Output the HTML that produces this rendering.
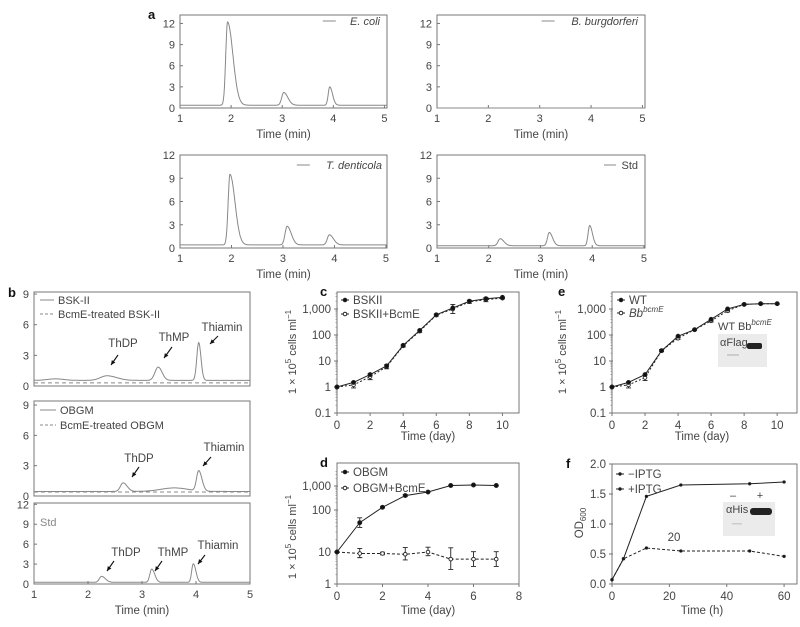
<!DOCTYPE html>
<html><head><meta charset="utf-8"><style>
html,body{margin:0;padding:0;background:#fff}
svg{display:block;font-family:"Liberation Sans",sans-serif}
</style></head><body>
<svg id="fig" width="800" height="627" viewBox="0 0 800 627" xmlns="http://www.w3.org/2000/svg"></svg>
<script>
// ---------- data ----------
// chromatograms: peak centers (min), heights, widths, tails, baseline
const ecoliC=[1.93,3.03,3.93], ecoliH=[11.8,1.8,2.6], ecoliW=[0.035,0.04,0.03], ecoliT=[3,2,1.8], ecoliBase=0.4;
const bburgC=[], bburgH=[], bburgW=[], bburgT=[], bburgBase=0;
const tdentC=[1.97,3.08,3.9], tdentH=[9.1,2.4,1.3], tdentW=[0.035,0.04,0.04], tdentT=[2.8,2,2], tdentBase=0.4;
const stdaC=[2.22,3.17,3.95], stdaH=[0.9,1.7,2.6], stdaW=[0.04,0.035,0.03], stdaT=[1.8,1.8,1.8], stdaBase=0.3;
const bskC=[1.4,2.35,3.3,4.05], bskH=[0.15,0.45,1.3,3.7], bskW=[0.15,0.12,0.06,0.035], bskT=[1,1.5,1.2,1.2], bskBase=0.55, bskTreated=0.3;
const obgmC=[2.65,3.6,4.05], obgmH=[0.85,0.35,2.0], obgmW=[0.05,0.25,0.04], obgmT=[1.5,1,1.5], obgmBase=0.45, obgmTreated=0.4;
const stdbC=[2.25,3.18,3.95], stdbH=[0.9,2.0,2.8], stdbW=[0.04,0.035,0.03], stdbT=[1.8,1.6,1.6], stdbBase=0.25;
// growth curves
const cDays=[0,1,2,3,4,5,6,7,8,9,10];
const cBSK=[1,1.5,3,6.5,40,150,600,1100,2000,2500,2800];
const cBcmE=[1,1.2,2.5,6,38,140,580,1000,1900,2300,2600];
const cErr=[1,1.3,1.3,1.2,1.1,1.1,1.1,1.5,1.15,1.2,1.05];
const dDays=[0,1,2,3,4,5,6,7];
const dOBGM=[10,50,130,400,560,1050,1100,1050];
const dBcmE=[10,9,9,8.5,10,6,6,6];
const dErr=[1,1.35,1.1,1.5,1.3,2.1,1.7,1.7];
const eDays=[0,1,2,3,4,5,6,7,8,9,10];
const eWT=[1,1.5,3,25,90,160,400,1000,1500,1600,1600];
const eBb=[1,1.2,2.3,25,75,160,350,850,1500,1600,1600];
const eErr=[1,1.3,1.3,1.1,1.1,1.05,1.1,1.1,1.05,1.05,1.05];
const fTime=[0,4,12,24,48,60];
const fMinus=[0.07,0.42,1.46,1.65,1.67,1.70];
const fPlus=[0.07,0.42,0.60,0.55,0.55,0.46];
const chromTicksX=[1,2,3,4,5];
const logTickLabels=["0.1","1","10","100","1,000"];

// ---------- helpers ----------
const NS="http://www.w3.org/2000/svg";
const svg=document.getElementById('fig');
function mk(tag,attrs,parent){const e=document.createElementNS(NS,tag);for(const k in attrs)e.setAttribute(k,attrs[k]);(parent||svg).appendChild(e);return e;}
function txt(x,y,s,anchor,size,parent,extra){const t=mk('text',Object.assign({x:x,y:y,'font-size':size||11,fill:'#444','text-anchor':anchor||'start'},extra||{}),parent);t.textContent=s;return t;}
function peaks(x,C,H,W,T,base){let v=base;for(let i=0;i<C.length;i++){const w=x<C[i]?W[i]:W[i]*T[i];v+=H[i]*Math.exp(-0.5*Math.pow((x-C[i])/w,2));}return v;}

function chrom(name,bx0,bx1,by0,by1,xmin,xmax,ymax,yTicks,data,opts){
  const g=mk('g',{},svg);
  
  
  const sx=v=>bx0+(v-xmin)/(xmax-xmin)*(bx1-bx0);
  const sy=v=>by1-v/ymax*(by1-by0);
  const r=mk('rect',{x:bx0,y:by0,width:bx1-bx0,height:by1-by0,fill:'none',stroke:'#777','stroke-width':1},g);
  
  yTicks.forEach(t=>{const y=sy(t);mk('line',{x1:bx0,x2:bx0+3,y1:y,y2:y,stroke:'#777'},g);const l=txt(bx0-5,y+4,String(t),'end',11,g);});
  if(opts.xTicks){chromTicksX.forEach(t=>{const x=sx(t);mk('line',{x1:x,x2:x,y1:by1,y2:by1-3,stroke:'#777'},g);const l=txt(x,by1+14,String(t),'middle',11,g);});}
  if(opts.xTitle){const l=txt((bx0+bx1)/2,by1+30,'Time (min)','middle',11.5,g);}
  data.forEach(d=>{
    let p='';
    if(d.flat!==undefined){p='M'+sx(xmin)+','+sy(d.flat)+'L'+sx(xmax)+','+sy(d.flat);}
    else{for(let x=xmin;x<=xmax+1e-9;x+=0.005){p+=(p?'L':'M')+sx(x).toFixed(1)+','+sy(peaks(x,d.C,d.H,d.W,d.T,d.base)).toFixed(1);}}
    const path=mk('path',{d:p,fill:'none',stroke:'#888','stroke-width':1,'stroke-dasharray':d.dash||'none'},g);
    
  });
  return {g,sx,sy};
}

function logAxis(name,bx0,bx1,by0,by1,xmin,xmax,xTicks,ymap,yTickVals,yLabels,minor){
  const g=mk('g',{},svg);
  
  
  const sx=v=>bx0+(v-xmin)/(xmax-xmin)*(bx1-bx0);
  const r=mk('rect',{x:bx0,y:by0,width:bx1-bx0,height:by1-by0,fill:'none',stroke:'#777'},g);
  
  yTickVals.forEach((t,i)=>{const y=ymap(t);mk('line',{x1:bx0-3,x2:bx0+1,y1:y,y2:y,stroke:'#777'},g);const l=txt(bx0-6,y+4,yLabels[i],'end',11.5,g);});
  if(minor){minor.forEach(v=>{const y=ymap(v);if(y>=by0&&y<=by1)mk('line',{x1:bx0-1.5,x2:bx0,y1:y,y2:y,stroke:'#888','stroke-width':0.7},g);});}
  xTicks.forEach(t=>{const x=sx(t);mk('line',{x1:x,x2:x,y1:by1,y2:by1+3,stroke:'#777'},g);const l=txt(x,by1+16,String(t),'middle',11.5,g);});
  return {g,sx};
}
function series(g,name,xs,ys,sx,sy,dash,marker,err){
  let p='';xs.forEach((x,i)=>{p+=(i?'L':'M')+sx(x).toFixed(1)+','+sy(ys[i]).toFixed(1);});
  const path=mk('path',{d:p,fill:'none',stroke:'#222','stroke-width':1,'stroke-dasharray':dash||'none'},g);
  
  xs.forEach((x,i)=>{
    const cx=sx(x),cy=sy(ys[i]);
    if(err&&err[i]>1.001){const y1=sy(ys[i]*err[i]),y2=sy(ys[i]/err[i]);
      mk('path',{d:`M${cx},${y1}L${cx},${y2}M${cx-2.5},${y1}L${cx+2.5},${y1}M${cx-2.5},${y2}L${cx+2.5},${y2}`,stroke:'#222','stroke-width':0.9,fill:'none'},g);}
    const m=mk('circle',{cx:cx,cy:cy,r:marker==='open'?1.8:2,fill:marker==='open'?'#fff':'#111',stroke:'#222','stroke-width':0.9},g);
    
  });
}
function legendEntry(g,x,y,label,marker,italic,sup){
  const e=mk('g',{},g);
  
  mk('line',{x1:x-4,x2:x+4,y1:y-4,y2:y-4,stroke:'#222'},e);
  mk('circle',{cx:x,cy:y-4,r:1.8,fill:marker==='open'?'#fff':'#111',stroke:'#222'},e);
  const t=txt(x+8,y,label,'start',11.5,e,italic?{'font-style':'italic'}:{});
  if(sup){const s=mk('tspan',{'font-size':8,dy:-5},t);s.textContent=sup;}
}
function ytitle(x,y,parent){const t=mk('text',{x:0,y:0,'font-size':11,fill:'#444','text-anchor':'middle',transform:`translate(${x},${y}) rotate(-90)`},parent);
  t.appendChild(document.createTextNode('1 × 10'));const s=mk('tspan',{'font-size':8,dy:-5},t);s.textContent='5';
  const u=mk('tspan',{dy:5},t);u.textContent=' cells ml';const s2=mk('tspan',{'font-size':8,dy:-5},t);s2.textContent='−1';
  return t;}
function label(x,y,s){const t=txt(x,y,s,'start',13,svg,{'font-weight':'bold',fill:'#111'});}
function chromLegend(g,xEnd,y,s){const t=txt(xEnd,y,s,'end',11,g,{'font-style':'italic'});const w=s.length*5.6;mk('line',{x1:xEnd-w-18,x2:xEnd-w-5,y1:y-4,y2:y-4,stroke:'#888'},g);
  }
function arrow(g,tx,ty,s,x1,y1,x2,y2){txt(tx,ty,s,'middle',11.5,g);
  mk('line',{x1:x1,y1:y1,x2:x2,y2:y2,stroke:'#111','stroke-width':1.1},g);
  const a=Math.atan2(y2-y1,x2-x1),L=5;
  mk('path',{d:`M${x2},${y2}L${x2-L*Math.cos(a-0.45)},${y2-L*Math.sin(a-0.45)}L${x2-L*Math.cos(a+0.45)},${y2-L*Math.sin(a+0.45)}Z`,fill:'#111'},g);}

// ---------- panel a ----------
label(148,19,'a');
const yt12=[0,3,6,9,12];
let A1=chrom('chrom-ecoli',180,387,15,108,1,5.05,13.2,yt12,[{name:'ecoli-trace',C:ecoliC,H:ecoliH,W:ecoliW,T:ecoliT,base:ecoliBase}],{xTicks:1,xTitle:1});
chromLegend(A1.g,380,25,'E. coli');
let A2=chrom('chrom-bburgdorferi',437,645,15,108,1,5.05,13.2,yt12,[{name:'bburg-trace',C:bburgC,H:bburgH,W:bburgW,T:bburgT,base:bburgBase}],{xTicks:1,xTitle:1});
chromLegend(A2.g,638,25,'B. burgdorferi');
let A3=chrom('chrom-tdenticola',180,387,155,248,1,5.02,12,yt12,[{name:'tdent-trace',C:tdentC,H:tdentH,W:tdentW,T:tdentT,base:tdentBase}],{xTicks:1,xTitle:1});
chromLegend(A3.g,382,169,'T. denticola');
let A4=chrom('chrom-std-a',437,645,155,248,1,5.02,12,yt12,[{name:'std-trace',C:stdaC,H:stdaH,W:stdaW,T:stdaT,base:stdaBase}],{xTicks:1,xTitle:1});
(function(){const g=A4.g;const t=txt(638,169,'Std','end',11,g);mk('line',{x1:604,x2:616,y1:165,y2:165,stroke:'#888'},g);})();

// ---------- panel b ----------
label(8,297,'b');
let B1=chrom('chrom-bsk',34,250,292,386,1,5,9.2,[0,3,6,9],[
  {name:'bsk-trace',C:bskC,H:bskH,W:bskW,T:bskT,base:bskBase},
  {name:'bsk-treated-trace',flat:bskTreated,dash:'4,3'}],{});
mk('line',{x1:40,x2:54,y1:300,y2:300,stroke:'#888'},B1.g);txt(58,304,'BSK-II','start',11,B1.g);
mk('line',{x1:40,x2:54,y1:314,y2:314,stroke:'#888','stroke-dasharray':'3,2'},B1.g);txt(58,318,'BcmE-treated BSK-II','start',11,B1.g);
arrow(B1.g,123,347,'ThDP',118,355,111,365);
arrow(B1.g,174,341,'ThMP',172,347,164,358);
arrow(B1.g,222,331,'Thiamin',218,336,210,344);
let B2=chrom('chrom-obgm',34,250,401,496,1,5,9.4,[0,3,6,9],[
  {name:'obgm-trace',C:obgmC,H:obgmH,W:obgmW,T:obgmT,base:obgmBase},
  {name:'obgm-treated-trace',flat:obgmTreated,dash:'4,3'}],{});
mk('line',{x1:40,x2:56,y1:410,y2:410,stroke:'#888'},B2.g);txt(60,414,'OBGM','start',11,B2.g);
mk('line',{x1:40,x2:56,y1:425,y2:425,stroke:'#888','stroke-dasharray':'3,2'},B2.g);txt(60,429,'BcmE-treated OBGM','start',11,B2.g);
arrow(B2.g,139,462,'ThDP',139,467,132,477);
arrow(B2.g,224,451,'Thiamin',211,457,203,466);
let B3=chrom('chrom-std-b',34,250,503,584,1,5,12.2,[0,3,6,9,12],[
  {name:'std-b-trace',C:stdbC,H:stdbH,W:stdbW,T:stdbT,base:stdbBase}],{xTicks:1,xTitle:1});
txt(40,526,'Std','start',11,B3.g,{fill:'#888'});
arrow(B3.g,126,556,'ThDP',114,561,107,571);
arrow(B3.g,173,556,'ThMP',162,561,155,571);
arrow(B3.g,218,549,'Thiamin',205,555,198,564);

// ---------- log minors ----------
const minors=[];for(let e=-1;e<4;e++)for(let k=2;k<10;k++)minors.push(k*Math.pow(10,e));
const logVals=[0.1,1,10,100,1000];

// ---------- panel c ----------
label(320,296,'c');
const syC=v=>413-(Math.log10(v)+1)*26;
let C=logAxis('chart-c',337,519,292,413,0,11,[0,2,4,6,8,10],syC,logVals,logTickLabels,minors);
ytitle(296,352,C.g);
txt(428,440,'Time (day)','middle',11.5,C.g);
series(C.g,'bskii-bcme',cDays,cBcmE,C.sx,syC,'2,2','open',cErr);
series(C.g,'bskii',cDays,cBSK,C.sx,syC,null,'filled',null);
legendEntry(C.g,345,304,'BSKII','filled');
legendEntry(C.g,345,318,'BSKII+BcmE','open');

// ---------- panel d ----------
label(320,467,'d');
const dTv=[1,10,100,1000], dTp=[584,552,510,486];
const syD=v=>{const l=Math.log10(v);let i=Math.min(2,Math.max(0,Math.floor(l)));return dTp[i]+(l-i)*(dTp[i+1]-dTp[i]);};
let D=logAxis('chart-d',337,519,463,584,0,8,[0,2,4,6,8],syD,dTv,["1","10","100","1,000"],minors.filter(v=>v>1&&v<4700));
ytitle(296,537,D.g);
txt(428,614,'Time (day)','middle',11.5,D.g);
series(D.g,'obgm-bcme',dDays,dBcmE,D.sx,syD,'3,2','open',dErr);
series(D.g,'obgm',dDays,dOBGM,D.sx,syD,null,'filled',[1,1.3,1.05,1.1,1.05,1.03,1.03,1.03]);
legendEntry(D.g,345,476,'OBGM','filled');
legendEntry(D.g,345,492,'OBGM+BcmE','open');

// ---------- panel e ----------
label(558,296,'e');
let E=logAxis('chart-e',612,797,292,413,0,11.2,[0,2,4,6,8,10],syC,logVals,logTickLabels,minors);
ytitle(566,352,E.g);
txt(702,440,'Time (day)','middle',11.5,E.g);
series(E.g,'bb-bcme',eDays,eBb,E.sx,syC,'2,2','open',eErr);
series(E.g,'wt',eDays,eWT,E.sx,syC,null,'filled',null);
legendEntry(E.g,621,304,'WT','filled');
legendEntry(E.g,621,317,'Bb','open',true,'bcmE');
(function(){const g=mk('g',{});
  const t=txt(718,330,'WT Bb','start',11,g);const s=mk('tspan',{'font-size':8,dy:-5,'font-style':'italic'},t);s.textContent='bcmE';
  mk('rect',{x:718,y:334,width:49,height:33,fill:'#ebebeb'},g);
  txt(720,346,'αFlag','start',11,g);
  mk('rect',{x:727,y:354,width:12,height:2,fill:'#ccc'},g);
  mk('rect',{x:747,y:343,width:15,height:6,rx:2,fill:'#222'},g);})();

// ---------- panel f ----------
label(566,468,'f');
const syF=v=>584-v/2*(584-464);
let F=logAxis('chart-f',612,797,464,584,0,64.5,[0,20,40,60],syF,[0,0.5,1,1.5,2],["0.0","0.5","1.0","1.5","2.0"],null);
(function(){const t=mk('text',{x:0,y:0,'font-size':11.5,fill:'#444','text-anchor':'middle',transform:'translate(583,523) rotate(-90)'},F.g);
  t.appendChild(document.createTextNode('OD'));const s=mk('tspan',{'font-size':8,dy:3},t);s.textContent='600';
  })();
txt(702,614,'Time (h)','middle',11.5,F.g);
series(F.g,'plus-iptg',fTime,fPlus,F.sx,syF,'3,2','filled',null);
series(F.g,'minus-iptg',fTime,fMinus,F.sx,syF,null,'filled',null);
F.g.querySelectorAll('circle').forEach(c=>c.setAttribute('r',1.2));
legendEntry(F.g,620,478,'−IPTG','filled');
legendEntry(F.g,620,493,'+IPTG','filled');
F.g.querySelectorAll('g circle').forEach(c=>c.setAttribute('r',1.2));
txt(674,541,'20','middle',11.5,F.g);
(function(){const g=mk('g',{});
  txt(733,499,'–','middle',11,g);txt(760,499,'+','middle',11,g);
  mk('rect',{x:723,y:502,width:52,height:34,fill:'#ebebeb'},g);
  txt(726,513,'αHis','start',11,g);
  mk('rect',{x:732,y:523,width:10,height:1.5,fill:'#ccc'},g);
  mk('rect',{x:750,y:508,width:22,height:7,rx:3,fill:'#222'},g);})();
</script>
</body></html>
